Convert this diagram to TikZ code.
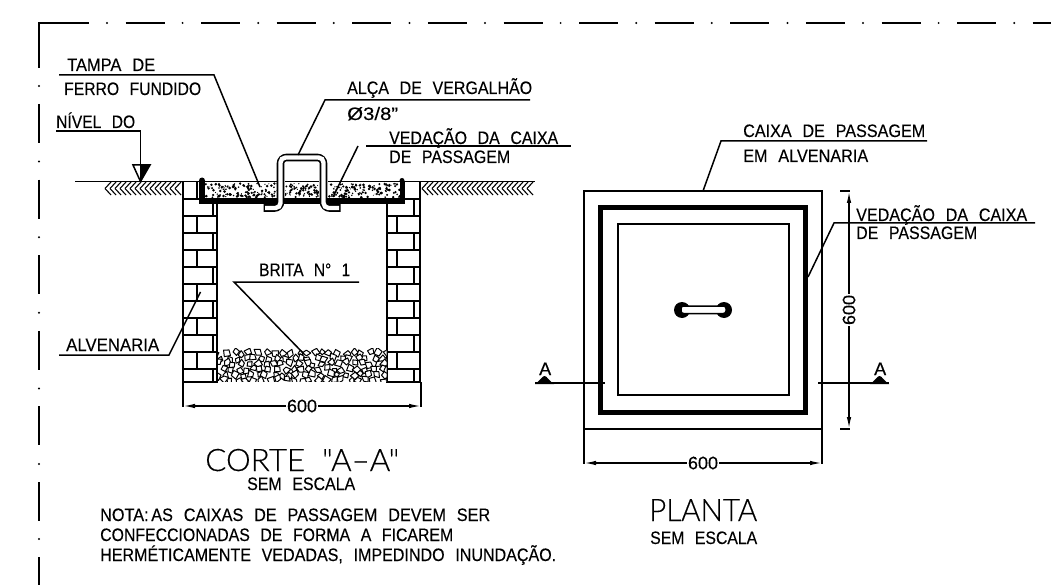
\documentclass[tikz,border=0pt]{standalone}
\usepackage{fontspec}
\usepackage{graphicx}
\setmainfont[WordSpace=2.4,FakeBold=0.25]{Liberation Sans}
\newfontfamily\titlefont[WordSpace=2,FakeBold=0.3]{Lato Light}
\usetikzlibrary{arrows.meta}
\newsavebox\fitbox
\newcommand\fitw[2]{\sbox\fitbox{#2}\dimen0=\wd\fitbox\pgfmathsetmacro\fitr{#1/\the\dimen0}\scalebox{\fitr}[1]{\usebox\fitbox}}
\tikzset{
 x=1pt,y=-1pt,
 ln/.style={line width=1.5pt,black},
 lab/.style={inner sep=0pt,anchor=base west,font=\fontsize{18}{20}\selectfont},
 big/.style={inner sep=0pt,anchor=base west,font=\titlefont\fontsize{31}{33}\selectfont},
 dimtxt/.style={inner sep=1pt,fill=white,font=\fontsize{18}{20}\selectfont},
 dimarrow/.style={ln,{Latex[length=12pt,width=4.5pt]}-{Latex[length=12pt,width=4.5pt]}},
 gstone/.style={line width=1pt,fill=white,line join=round},
}
\begin{document}
\begin{tikzpicture}
\useasboundingbox (0,0) rectangle (1051,585);
\fill[white] (0,0) rectangle (1051,585);
% sheet border
\draw[line width=1.7pt] (39,68) -- (39,23) -- (89,23);
\foreach \k in {0,...,12}{
  \pgfmathsetmacro\xa{125.5+75.6*\k}\pgfmathsetmacro\xb{\xa+39}\pgfmathsetmacro\xd{107+75.6*\k}
  \draw[line width=1.7pt] (\xa,23) -- (\xb,23);
  \fill (\xd,23) circle (1.1);
}
\foreach \k in {0,...,5}{
  \pgfmathsetmacro\ya{104+75.6*\k}\pgfmathsetmacro\yb{\ya+39}\pgfmathsetmacro\yd{86+75.6*\k}
  \draw[line width=1.7pt] (39,\ya) -- (39,\yb);
  \fill (39,\yd) circle (1.1);
}
\fill (39,539) circle (1.1);
\draw[line width=1.7pt] (39,557) -- (39,585);
% ground
\draw[ln] (75,181.5) -- (535,181.5);
\foreach \xs/\xe in {105/177,422/531}{
  \foreach \x in {\xs,\the\numexpr\xs+5\relax,...,\xe}{
    \draw[line width=1.1pt] (\x,188.5) -- ++(6,-6.5);
    \draw[line width=1.1pt] (\x,188.5) -- ++(6,6.5);
  }
}
% masonry walls
\draw[ln] (183,182) -- (183,382) -- (217,382) -- (217,199);
\draw[ln] (387,199) -- (387,382) -- (420,382) -- (420,182);
\foreach \y in {199,216,233,250,267,284,301,318,335,352,369}{
  \draw[ln] (183,\y) -- (217,\y);
  \draw[ln] (387,\y) -- (420,\y);
}
\draw[ln] (197,182) -- (197,199);
\draw[ln] (404,182) -- (404,199);
\foreach \y in {199,233,267,301,335,369}{
  \pgfmathsetmacro\yb{min(\y+17,382)}
  \draw[ln] (213,\y) -- (213,\yb);
  \draw[ln] (414,\y) -- (414,\yb);
}
\foreach \y in {216,250,284,318,352}{
  \pgfmathsetmacro\yb{\y+17}
  \draw[ln] (197,\y) -- (197,\yb);
  \draw[ln] (397,\y) -- (397,\yb);
}
% lid
\fill[white] (205,182.2) rectangle (400,198);
\pgfmathsetseed{4711}
\begin{scope}
\clip (205,183) rectangle (400,198);
\foreach \k in {1,...,370}{
  \pgfmathsetmacro\px{205+195*rnd}\pgfmathsetmacro\py{183.5+14*rnd}\pgfmathsetmacro\pr{.5+1.0*rnd}
  \fill (\px,\py) circle (\pr);
}
\end{scope}
\fill (199,198) rectangle (404,204);
\fill (199,181) rectangle (205,204);
\fill (202,180.5) circle (3);
\fill (399.5,181) rectangle (404.5,204);
\fill (402,180.5) circle (2.5);
% handle
\fill[white] (277,176) rectangle (285,198);
\fill[white] (319,176) rectangle (328,198);
\draw[line width=7.6pt,rounded corners=6pt] (263.5,208) -- (280.5,208) -- (280.5,157.5) -- (323.5,157.5) -- (323.5,208) -- (340.5,208);
\draw[white,line width=4.4pt,rounded corners=5pt] (265,208) -- (280.5,208) -- (280.5,157.5) -- (323.5,157.5) -- (323.5,208) -- (339,208);
% gravel
\begin{scope}
\clip (218,348) rectangle (386.5,381);
\pgfmathsetseed{2024}
\foreach \r in {0,...,5}{
  \foreach \c in {0,...,21}{
    \pgfmathsetmacro\cx{218+8*\c+4*mod(\r,2)+5*(rnd-.5)}
    \pgfmathsetmacro\cy{353+5.4*\r+3.5*(rnd-.5)}
    \pgfmathsetmacro\ca{360*rnd}
    \pgfmathsetmacro\ra{2.4+2.6*rnd}\pgfmathsetmacro\rb{2.4+2.6*rnd}\pgfmathsetmacro\rc{2.4+2.6*rnd}\pgfmathsetmacro\rd{2.4+2.6*rnd}
    \draw[gstone,shift={(\cx,\cy)}] (\ca:\ra) -- (\ca+85:\rb) -- (\ca+185:\rc) -- (\ca+275:\rd) -- cycle;
  }
}
\end{scope}
% labels section
\node[lab] (tampa) at (67,71) {\fitw{88}{TAMPA DE}};
\node[lab] (ferro) at (64,95) {\fitw{137}{FERRO FUNDIDO}};
\draw[ln] (59,75) -- (214,75) -- (260,187);
\node[lab] (nivel) at (56,128) {\fitw{79}{NÍVEL DO}};
\draw[ln] (56,131) -- (140.5,131) -- (140.5,181);
\draw[ln] (133,165) -- (150,165) -- (140.5,181.5) -- cycle;
\fill (140.5,165) -- (150,165) -- (140.5,181.5) -- cycle;
\node[lab] (alca) at (347,94) {\fitw{185}{ALÇA DE VERGALHÃO}};
\node[lab] (phi) at (347,120) {\fitw{51}{Ø3/8"}};
\draw[ln] (530,100) -- (325,100) -- (298,155);
\node[lab] (ved) at (389,144) {\fitw{169}{VEDAÇÃO DA CAIXA}};
\node[lab] (pas) at (389,163) {\fitw{121}{DE PASSAGEM}};
\draw[ln] (366,146) -- (571,146);
\draw[ln] (358,146) -- (333,197);
\node[lab] (brita) at (259,276) {\fitw{91}{BRITA N° 1}};
\draw[ln] (359,282) -- (234,282) -- (304,354);
\node[lab] (alv) at (66,351) {\fitw{93}{ALVENARIA}};
\draw[ln] (59,355) -- (169,355) -- (200.5,292);
% section dimension
\draw[ln] (183,382) -- (183,407);
\draw[ln] (421,382) -- (421,407);
\draw[dimarrow] (183,406) -- (421,406);
\node[dimtxt] (d1) at (302,406) {\fitw{30}{600}};
% titles
\node[big] (corte) at (205,471) {\fitw{194}{CORTE "A–A"}};
\node[lab] (se1) at (247,490) {\fitw{108}{SEM ESCALA}};
\node[lab] (n1) at (100,521) {\fitw{390}{NOTA:\,AS CAIXAS DE PASSAGEM DEVEM SER}};
\node[lab] (n2) at (100,541) {\fitw{353}{CONFECCIONADAS DE FORMA A FICAREM}};
\node[lab] (n3) at (100,561) {\fitw{456}{HERMÉTICAMENTE VEDADAS, IMPEDINDO INUNDAÇÃO.}};
\node[big] (planta) at (649,521) {\fitw{108}{PLANTA}};
\node[lab] (se2) at (650,544) {\fitw{107}{SEM ESCALA}};
% plan
\draw[ln] (584,191) rectangle (822,429);
\draw[line width=5.5pt] (600.7,207.7) rectangle (805.3,412.3);
\draw[ln] (618,224) rectangle (789,395);
\fill (682,310) circle (8);
\fill (724,310) circle (8);
\draw[line width=1.5pt,fill=white,rounded corners=2.5pt] (681,306) rectangle (726,313.5);
% section marks
\draw[ln] (535,383) -- (605,383);
\draw[ln] (818,383) -- (889,383);
\fill (535,384) -- (554,384) .. controls (549,381) and (547,376) .. (544.5,376) .. controls (542,376) and (540,381) .. (535,384) -- cycle;
\fill (870,384) -- (889,384) .. controls (884,381) and (882,376) .. (879.5,376) .. controls (877,376) and (875,381) .. (870,384) -- cycle;
\node[lab] (aL) at (539,375) {\fitw{12}{A}};
\node[lab] (aR) at (874,375) {\fitw{12}{A}};
% plan labels
\node[lab] (caixa) at (743,137) {\fitw{182}{CAIXA DE PASSAGEM}};
\node[lab] (em) at (743,162) {\fitw{125}{EM ALVENARIA}};
\draw[ln] (927,141) -- (721,141) -- (703,191);
\node[lab] (ved2) at (856,221) {\fitw{171}{VEDAÇÃO DA CAIXA}};
\node[lab] (pas2) at (856,239) {\fitw{121}{DE PASSAGEM}};
\draw[ln] (1035,223) -- (834,223) -- (808,277);
% plan dimensions
\draw[ln] (584,429) -- (584,464);
\draw[ln] (822,429) -- (822,464);
\draw[dimarrow] (584,463) -- (822,463);
\node[dimtxt] (d2) at (703,463) {\fitw{30}{600}};
\draw[ln] (840,191) -- (850,191);
\draw[ln] (840,429) -- (850,429);
\draw[dimarrow] (849,191) -- (849,429);
\node[dimtxt,rotate=90] (d3) at (849,310) {\fitw{30}{600}};
\end{tikzpicture}
\end{document}
